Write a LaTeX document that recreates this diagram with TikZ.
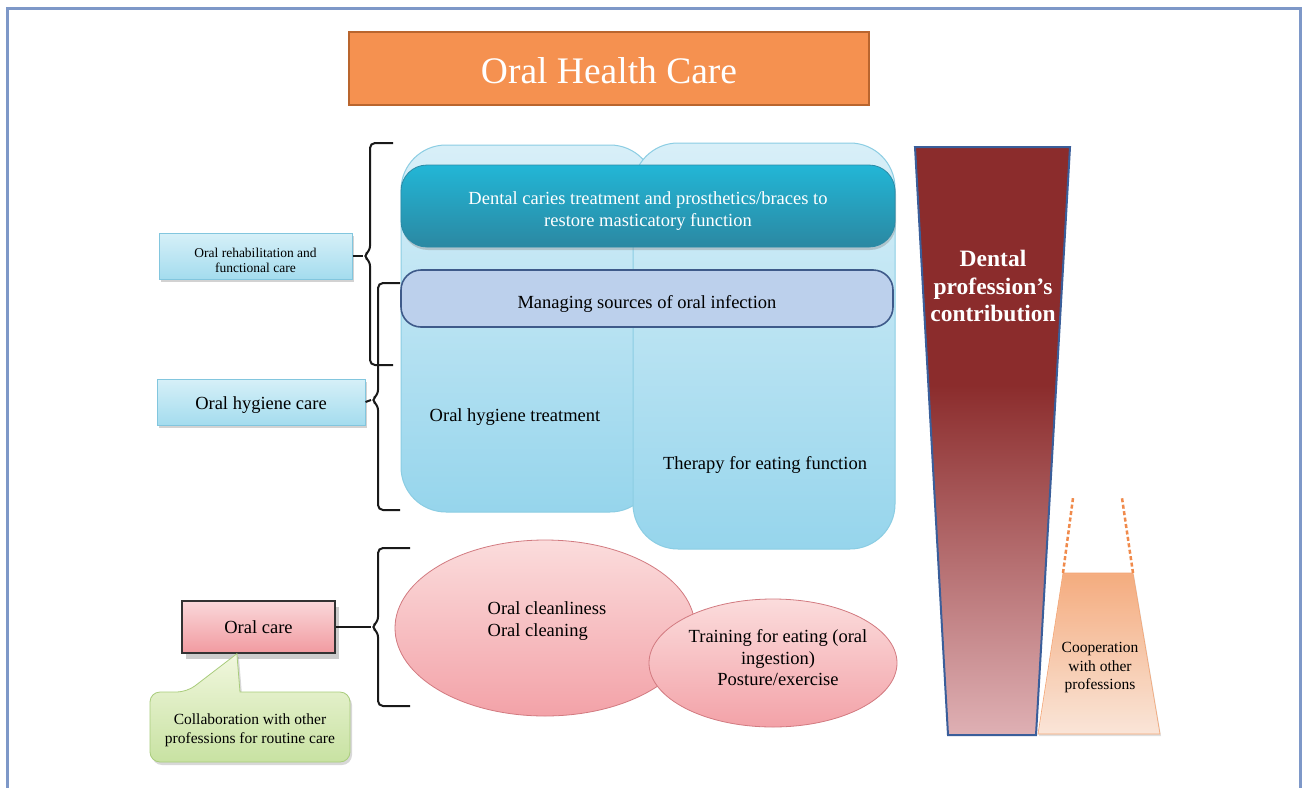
\documentclass[tikz,border=0pt]{standalone}
\usepackage{fontspec}
\setmainfont{Liberation Serif}
\usetikzlibrary{shapes.geometric,shadows,calc}
\definecolor{framec}{HTML}{7E98C8}
\definecolor{titlefill}{HTML}{F59150}
\definecolor{titleborder}{HTML}{B9652E}
\definecolor{coltop}{HTML}{D8EFF8}
\definecolor{colbot}{HTML}{96D5EC}
\definecolor{colborder}{HTML}{8BCDE3}
\definecolor{tealtop}{HTML}{22B6D6}
\definecolor{tealbot}{HTML}{2B88A2}
\definecolor{tealborder}{HTML}{2A8AA6}
\definecolor{mantop}{HTML}{BCD0EC}
\definecolor{manborder}{HTML}{3E5A8A}
\definecolor{lbtop}{HTML}{D6F0F8}
\definecolor{lbbot}{HTML}{A4DCEE}
\definecolor{lbborder}{HTML}{82C6DE}
\definecolor{pinktop}{HTML}{FAD8DA}
\definecolor{pinkbot}{HTML}{F19AA0}
\definecolor{elltop}{HTML}{FBDCDC}
\definecolor{ellbot}{HTML}{F3A2A8}
\definecolor{ellborder}{HTML}{D27A80}
\definecolor{greentop}{HTML}{F1F7DE}
\definecolor{greenbot}{HTML}{C8E2A2}
\definecolor{greenborder}{HTML}{A9CC7C}
\definecolor{dentaldark}{HTML}{8B2C2C}
\definecolor{dentallight}{HTML}{E0B2B6}
\definecolor{dentalborder}{HTML}{3A5E9A}
\definecolor{cooptop}{HTML}{F6A877}
\definecolor{coopbot}{HTML}{FDE6D8}
\definecolor{coopborder}{HTML}{F2A474}
\definecolor{coopdash}{HTML}{F08A4B}
\tikzset{
  body/.style={font=\fontsize{18.5}{22}\selectfont, align=center, text=black},
  titlebox/.style={draw=titleborder, line width=2pt, fill=titlefill, inner sep=0pt},
  titletext/.style={text=white, font=\fontsize{37.5}{40}\selectfont, inner sep=0pt},
  colbox/.style={draw=colborder, line width=1pt, top color=coltop, bottom color=colbot,
    rounded corners=45pt, inner sep=0pt},
  tealband/.style={draw=tealborder, line width=0.8pt, top color=tealtop, bottom color=tealbot,
    rounded corners=26pt, inner sep=0pt,
    drop shadow={opacity=0.35, shadow xshift=1pt, shadow yshift=-3pt}},
  whitetext/.style={text=white, align=center, font=\fontsize{18.5}{22}\selectfont},
  manband/.style={draw=manborder, line width=1.6pt, fill=mantop, rounded corners=20pt,
    inner sep=0pt},
  bluebox/.style={draw=lbborder, line width=1pt, top color=lbtop, bottom color=lbbot,
    inner sep=0pt,
    drop shadow={opacity=0.35, shadow xshift=2pt, shadow yshift=-3pt}},
  pinkbox/.style={draw=black!80, line width=1.5pt, top color=pinktop, bottom color=pinkbot,
    inner sep=0pt, body,
    drop shadow={opacity=0.4, shadow xshift=4pt, shadow yshift=-6pt}},
  pinkell/.style={ellipse, draw=ellborder, line width=0.8pt, top color=elltop, bottom color=ellbot,
    inner sep=0pt},
  callout/.style={draw=greenborder, line width=0.8pt, top color=greentop, bottom color=greenbot,
    drop shadow={opacity=0.3, shadow xshift=2pt, shadow yshift=-3pt}},
  brk/.style={draw=black!90, line width=2pt, rounded corners=5pt},
  brkline/.style={draw=black!90, line width=2pt},
  frameline/.style={draw=framec, line width=3pt},
  dentaltext/.style={text=white, align=center, font=\bfseries\fontsize{23.5}{27.5}\selectfont},
  cooptext/.style={text=black, align=center, font=\fontsize{15.5}{18.5}\selectfont},
  coopdashed/.style={draw=coopdash, line width=2.5pt, dashed, dash pattern=on 4pt off 2.5pt},
}
\begin{document}
\begin{tikzpicture}[x=1pt,y=-1pt]
\useasboundingbox (0,0) rectangle (1306,787);
\fill[white] (0,0) rectangle (1306,787);
\draw[frameline] (7,800) -- (7,8) -- (1300,8) -- (1300,800);

% title
\node[titlebox, minimum width=520pt, minimum height=73pt] (title) at (609,68.5) {};
\node[titletext] (titleT) at ([yshift=-2pt]title.center) {Oral Health Care};

% columns
\node[colbox, minimum width=254pt, minimum height=367pt] (colL) at (528,328.5) {};
\node[colbox, minimum width=262pt, minimum height=406pt] (colR) at (764,346) {};
\node[tealband, minimum width=494pt, minimum height=82pt] (caries) at (648,206) {};
\node[whitetext] (cariesT) at ([yshift=-5pt]caries.center)
  {Dental caries treatment and prosthetics/braces to\\restore masticatory function};
\node[manband, minimum width=492pt, minimum height=57pt] (manage) at (647,298.5) {};
\node[body] (manageT) at ([yshift=-5pt]manage.center) {Managing sources of oral infection};
\node[body] (hygtreat) at (515,417) {Oral hygiene treatment};
\node[body] (therapy) at (765,465) {Therapy for eating function};

% ellipses
\node[pinkell, minimum width=300pt, minimum height=176pt] (ellA) at (545,628) {};
\node[pinkell, minimum width=248pt, minimum height=128pt] (ellB) at (773,663) {};
\node[body, align=left] (clean) at (547,621) {Oral cleanliness\\Oral cleaning};
\node[body, font=\fontsize{18.5}{21.5}\selectfont] (training) at (778,658)
  {Training for eating (oral\\ingestion)\\Posture/exercise};

% left boxes
\node[bluebox, minimum width=193pt, minimum height=46pt] (rehab) at (255.5,256) {};
\node[align=center, font=\fontsize{13.5}{15}\selectfont] (rehabT) at ([yshift=-4pt]rehab.center)
  {Oral rehabilitation and\\functional care};
\node[bluebox, minimum width=208pt, minimum height=46pt] (hyg) at (261,402) {};
\node[body] (hygT) at ([yshift=-3pt]hyg.center) {Oral hygiene care};
\node[pinkbox, minimum width=153pt, minimum height=52pt] (oralcare) at (258.5,627) {Oral care};

% callout
\coordinate (ptr) at ($(oralcare.south west)!0.36!(oralcare.south east)$);
\path[callout] (150,727) [rounded corners=10pt] -- (150,692) -- (187,692) [sharp corners]
  -- (ptr) -- (240,692) [rounded corners=10pt] -- (350,692) -- (350,762) -- (150,762) -- cycle;
\node[text=black, align=center, font=\fontsize{15.5}{19}\selectfont] (collab) at (250,730)
  {Collaboration with other\\professions for routine care};

% brackets
\coordinate (t1) at (363,256);
\draw[brk] (393,143) -- (370,143) -- (370,251) -- (t1) -- (370,261) -- (370,365) -- (393,365);
\draw[brkline] (rehab.east) -- (t1);
\coordinate (t2) at (371,400);
\draw[brk] (400,283) -- (378,283) -- (378,395) -- (t2) -- (378,405) -- (378,510) -- (400,510);
\draw[brkline] (hyg.east) -- (t2);
\coordinate (t3) at (371,627);
\draw[brk] (410,548) -- (378,548) -- (378,622) -- (t3) -- (378,632) -- (378,706) -- (410,706);
\draw[brkline] (oralcare.east) -- (t3);

% dental profession trapezoid
\coordinate (dTL) at (915,147);
\coordinate (dTR) at (1070,147);
\coordinate (dBR) at (1036,735);
\coordinate (dBL) at (948,735);
\begin{scope}
\clip (dTL) -- (dTR) -- (dBR) -- (dBL) -- cycle;
\fill[dentaldark] (900,140) rectangle (1080,386);
\shade[top color=dentaldark, bottom color=dentallight] (900,385) rectangle (1080,740);
\end{scope}
\draw[draw=dentalborder, line width=2pt] (dTL) -- (dTR) -- (dBR) -- (dBL) -- cycle;
\node[dentaltext] (dental) at (993,286) {Dental\\profession’s\\contribution};

% cooperation trapezoid
\coordinate (cTL) at (1063,573);
\coordinate (cTR) at (1133,573);
\coordinate (cBR) at (1160,734);
\coordinate (cBL) at (1038,734);
\path[top color=cooptop, bottom color=coopbot, draw=coopborder, line width=0.6pt,
  fill opacity=0.92, drop shadow={opacity=0.25, shadow xshift=1pt, shadow yshift=-2pt}]
  (cTL) -- (cTR) -- (cBR) -- (cBL) -- cycle;
\coordinate (cL) at (1073,498);
\coordinate (cR) at (1122,498);
\draw[coopdashed] (cTL) -- (cL);
\draw[coopdashed] (cTR) -- (cR);
\node[cooptext] (coop) at (1100,668) {Cooperation\\with other\\professions};
\end{tikzpicture}
\end{document}
